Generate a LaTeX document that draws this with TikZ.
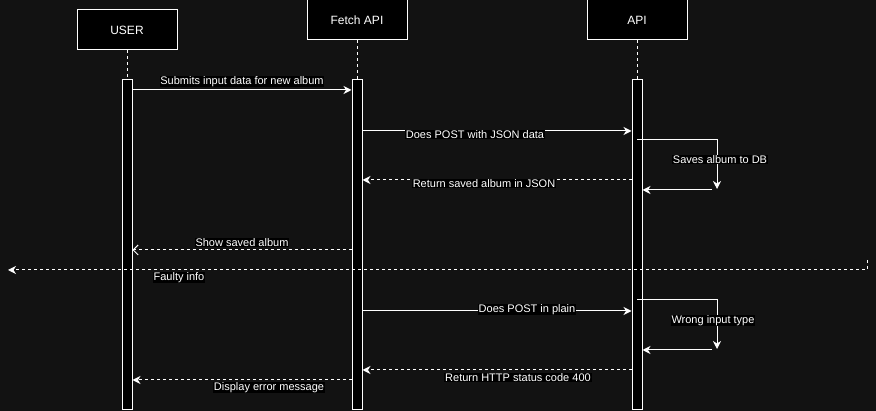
\documentclass[tikz,border=0pt]{standalone}
\usepackage{fontspec}
\setmainfont{Liberation Sans}
\usetikzlibrary{arrows.meta}
\definecolor{bg}{RGB}{18,18,18}
\begin{document}
\begin{tikzpicture}[x=1pt,y=-1pt,
  actor/.style={draw=white,fill=black,line width=1pt,minimum width=100pt,minimum height=40pt,inner sep=0pt,text=white,font=\fontsize{12}{14}\selectfont},
  act/.style={draw=white,fill=black,line width=1pt,minimum width=10pt,minimum height=330pt,inner sep=0pt},
  msg/.style={draw=white,line width=1pt,-{Stealth[length=8pt,width=8pt,inset=2.5pt]}},
  ret/.style={msg,dash pattern=on 3pt off 3pt},
  opn/.style={draw=white,line width=1pt,dash pattern=on 3pt off 3pt,-{Straight Barb[length=5pt,width=10pt]}},
  lbl/.style={fill=black,text=white,inner sep=0.8pt,yshift=-1.5pt,font=\fontsize{11}{13}\selectfont},
  life/.style={draw=white,line width=1pt,dash pattern=on 3pt off 3pt}]
\fill[bg] (0,0) rectangle (876,411);
\useasboundingbox (0,0) rectangle (876,411);
% actors
\node[actor] (u) at (127,30) {USER};
\node[actor] (f) at (357,20) {Fetch API};
\node[actor] (a) at (637,20) {API};
% lifelines
\draw[life] (u.south) -- (127,80) coordinate (ut);
\draw[life] (f.south) -- (357,80) coordinate (ft);
\draw[life] (a.south) -- (637,80) coordinate (at);
% activations
\node[act] (ua) at (127,245) {};
\node[act] (fa) at (357,245) {};
\node[act] (aa) at (637,245) {};
% messages
\draw[msg] (ua.east |- 0,90) -- (fa.west |- 0,90);
\node[lbl] (l1) at (242,80) {Submits input data for new album};
\draw[msg] (fa.east |- 0,131) -- (aa.west |- 0,131);
\node[lbl] (l2) at (475,133) {Does POST with JSON data};
\coordinate (s1) at (717,140);
\draw[msg] (aa.center |- s1) -- (s1) -- (717,189);
\draw[msg] (712,190) coordinate (s1b) -- (aa.east |- s1b);
\node[lbl] (l3) at (720,158) {Saves album to DB};
\draw[ret] (aa.west |- 0,180) -- (fa.east |- 0,180);
\node[lbl] (l4) at (484,182) {Return saved album in JSON};
\draw[opn] (fa.west |- 0,250) -- (ua.east |- 0,250);
\node[lbl] (l5) at (242,241) {Show saved album};
\coordinate (fz0) at (867,260);
\coordinate (fz1) at (867,270);
\coordinate (fz2) at (8,270);
\draw[ret] (fz0) -- (fz1) -- (fz2);
\node[lbl] (l6) at (179,276) {Faulty info};
\draw[msg] (fa.east |- 0,311) -- (aa.west |- 0,311);
\node[lbl] (l7) at (527,308) {Does POST in plain};
\coordinate (s2) at (717,300);
\draw[msg] (aa.center |- s2) -- (s2) -- (717,349);
\draw[msg] (712,350) coordinate (s2b) -- (aa.east |- s2b);
\node[lbl] (l8) at (713,319) {Wrong input type};
\draw[ret] (aa.west |- 0,370) -- (fa.east |- 0,370);
\node[lbl] (l9) at (518,376) {Return HTTP status code 400};
\draw[ret] (fa.west |- 0,380) -- (ua.east |- 0,380);
\node[lbl] (l10) at (269,386) {Display error message};
\end{tikzpicture}
\end{document}
